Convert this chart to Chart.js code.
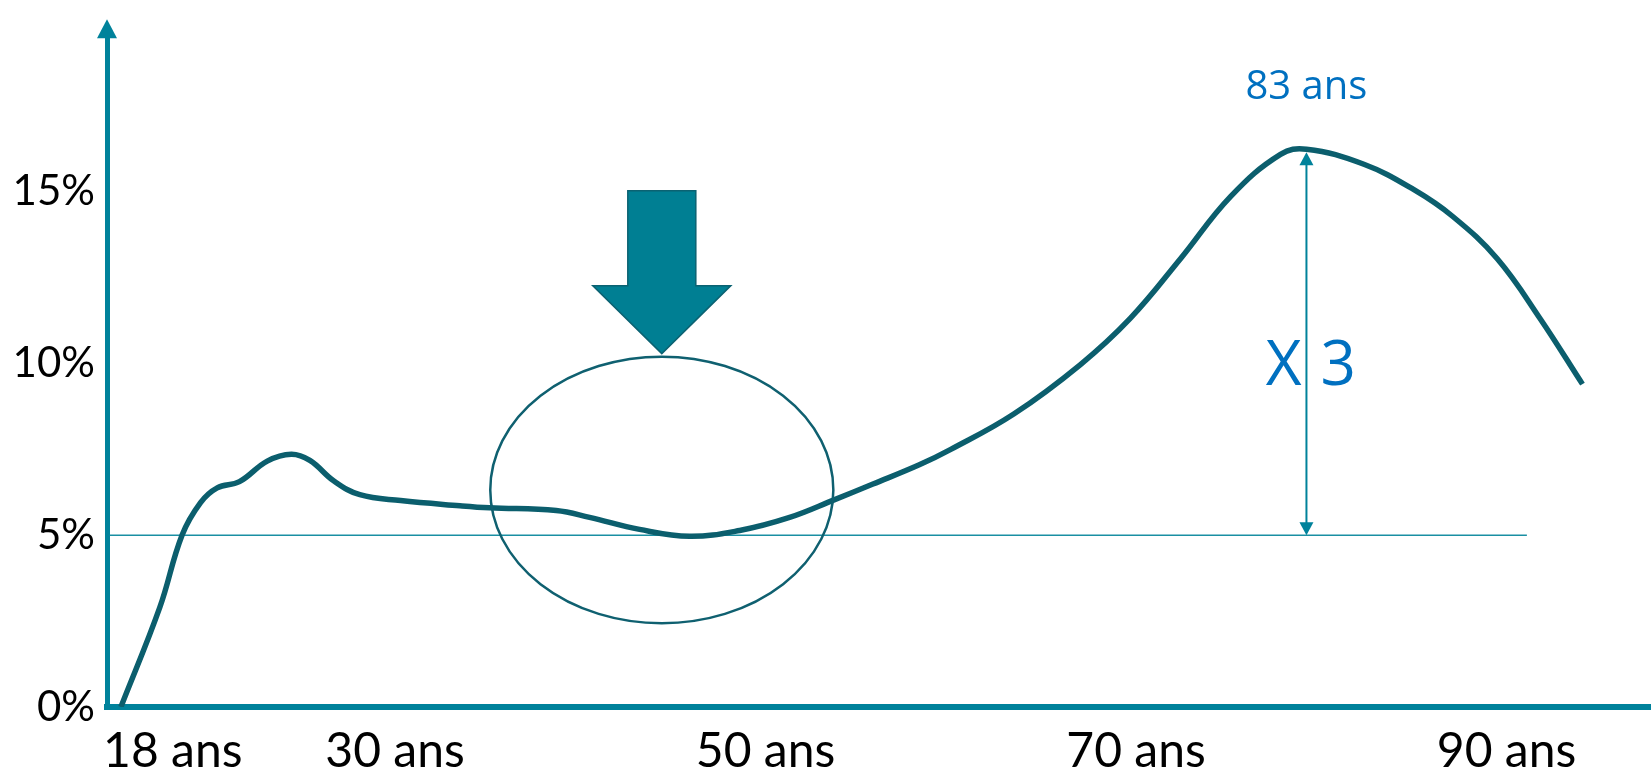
<!DOCTYPE html>
<html lang="fr">
<head>
<meta charset="utf-8">
<title>Courbe par âge</title>
<script src="https://cdn.jsdelivr.net/npm/chart.js@4"></script>
<style>
    html, body { margin: 0; padding: 0; background: #ffffff; }
    canvas { display: block; }
</style>
</head>
<body>
<canvas id="ageCurve" width="1651" height="772"></canvas>
<script>
// valeurs (âge, %)
const ages = [15.2, 17.3, 18.5, 19.5, 20.4, 21.6, 23.1, 24.4, 25.4, 26.7, 28.1, 30.3, 33.5, 35.1, 38.7, 40.5, 43.2, 45.9, 48.6,
              51.3, 53.7, 55.8, 58.3, 60.0, 63.4, 67.0, 69.7, 72.4, 75.1, 77.8, 79.2, 82.3, 85.0, 87.1, 89.5, 91.8, 94.1];
const parts = [0.0, 2.9, 5.0, 5.95, 6.38, 6.56, 7.16, 7.36, 7.18, 6.58, 6.18, 6.01, 5.86, 5.80, 5.72, 5.52, 5.17, 4.97, 5.14,
               5.52, 6.03, 6.49, 7.05, 7.50, 8.53, 9.97, 11.32, 13.05, 14.86, 16.09, 16.24, 15.80, 15.06, 14.28, 13.05, 11.32, 9.40];

// ligne de référence à 5 %
const seuilAges = [14.6, 91.1];
const seuilValues = [5, 5];

// graduations
const xTicks = [18, 30, 50, 70, 90];
const yTicks = [0, 5, 10, 15];

// annotations
const peakLabel = '83 ans';
const ratioLabel = ['X', '3'];
const zoneCenter = [44.4, 6.32];   // centre du cercle (âge, %)
const zoneRadius = [9.26, 3.88];   // rayons (années, %)

document.addEventListener("DOMContentLoaded", function(){
    const teal = '#00829b';
    const dark = '#0b5e6d';
    const blue = '#0070c0';

    const annotations = {
        id: 'annotations',
        afterDatasetsDraw(chart) {
            const ctx = chart.ctx;
            const area = chart.chartArea;
            const x = chart.scales.x;
            const y = chart.scales.y;
            ctx.save();

            // flèche de l'axe vertical
            ctx.fillStyle = teal;
            ctx.beginPath();
            ctx.moveTo(area.left, area.top - 18);
            ctx.lineTo(area.left - 10, area.top + 1);
            ctx.lineTo(area.left + 10, area.top + 1);
            ctx.closePath();
            ctx.fill();

            // cercle autour du creux
            const cx = x.getPixelForValue(zoneCenter[0]);
            const cy = y.getPixelForValue(zoneCenter[1]);
            const rx = x.getPixelForValue(zoneCenter[0] + zoneRadius[0]) - cx;
            const ry = cy - y.getPixelForValue(zoneCenter[1] + zoneRadius[1]);
            ctx.strokeStyle = '#0f6070';
            ctx.lineWidth = 2.5;
            ctx.beginPath();
            ctx.ellipse(cx, cy, rx, ry, 0, 0, Math.PI * 2);
            ctx.stroke();

            // grosse flèche vers le bas
            const tipY = cy - ry - 3;
            ctx.fillStyle = '#007f93';
            ctx.strokeStyle = '#0b6272';
            ctx.lineWidth = 1.5;
            ctx.beginPath();
            ctx.moveTo(cx, tipY);
            ctx.lineTo(cx - 69, tipY - 68);
            ctx.lineTo(cx - 34, tipY - 68);
            ctx.lineTo(cx - 34, tipY - 163);
            ctx.lineTo(cx + 34, tipY - 163);
            ctx.lineTo(cx + 34, tipY - 68);
            ctx.lineTo(cx + 69, tipY - 68);
            ctx.closePath();
            ctx.fill();
            ctx.stroke();

            // double flèche entre 5 % et le pic
            let iMax = 0;
            parts.forEach((v, i) => { if (v > parts[iMax]) iMax = i; });
            const px = x.getPixelForValue(ages[iMax]);
            const top = y.getPixelForValue(parts[iMax]) + 3;
            const bottom = y.getPixelForValue(seuilValues[0]);
            ctx.strokeStyle = teal;
            ctx.fillStyle = teal;
            ctx.lineWidth = 2;
            ctx.beginPath();
            ctx.moveTo(px, top + 10);
            ctx.lineTo(px, bottom - 10);
            ctx.stroke();
            ctx.beginPath();
            ctx.moveTo(px, top);
            ctx.lineTo(px - 7, top + 13);
            ctx.lineTo(px + 7, top + 13);
            ctx.closePath();
            ctx.fill();
            ctx.beginPath();
            ctx.moveTo(px, bottom);
            ctx.lineTo(px - 7, bottom - 13);
            ctx.lineTo(px + 7, bottom - 13);
            ctx.closePath();
            ctx.fill();

            // textes
            ctx.fillStyle = blue;
            ctx.textBaseline = 'alphabetic';
            ctx.font = '40px "Open Sans"';
            ctx.textAlign = 'center';
            ctx.fillText(peakLabel, px, top - 53);
            ctx.font = '62px "Open Sans"';
            ctx.textAlign = 'right';
            ctx.fillText(ratioLabel[0], px - 5, 385);
            ctx.textAlign = 'left';
            ctx.fillText(ratioLabel[1], px + 14, 385);

            ctx.restore();
        }
    };

    const ctx = document.getElementById('ageCurve').getContext('2d');
    const curveChart = new Chart(ctx, {
        type: 'line',
        data: {
            datasets: [
                {
                    label: 'Répartition par âge',
                    data: ages.map((a, i) => ({x: a, y: parts[i]})),
                    borderColor: dark,
                    borderWidth: 5.5,
                    pointRadius: 0,
                    fill: false,
                    tension: 0.4
                },
                {
                    label: 'Seuil 5 %',
                    data: seuilAges.map((a, i) => ({x: a, y: seuilValues[i]})),
                    borderColor: '#1a8fa3',
                    borderWidth: 1.5,
                    pointRadius: 0,
                    fill: false
                }
            ]
        },
        options: {
            responsive: false,
            animation: false,
            devicePixelRatio: 1,
            layout: {
                padding: {top: 28, left: 0, right: 0, bottom: 0}
            },
            plugins: {
                legend: { display: false },
                tooltip: { enabled: false }
            },
            scales: {
                x: {
                    type: 'linear',
                    min: 14.45,
                    max: 97.8,
                    afterBuildTicks: (scale) => { scale.ticks = xTicks.map(v => ({value: v})); },
                    afterFit: (scale) => { scale.height = 65; },
                    grid: { display: false, drawTicks: false },
                    border: { display: true, color: teal, width: 6 },
                    ticks: {
                        padding: 16,
                        maxRotation: 0,
                        autoSkip: false,
                        color: '#000000',
                        font: { family: 'Lato', size: 48 },
                        callback: (v) => v + ' ans'
                    }
                },
                y: {
                    type: 'linear',
                    min: 0,
                    max: 19.5,
                    afterBuildTicks: (scale) => { scale.ticks = yTicks.map(v => ({value: v})); },
                    afterFit: (scale) => { scale.width = 107; },
                    grid: { display: false, drawTicks: false },
                    border: { display: true, color: teal, width: 5 },
                    ticks: {
                        padding: 12,
                        color: '#000000',
                        font: { family: 'Lato', size: 42 },
                        callback: (v) => v + '%'
                    }
                }
            }
        },
        plugins: [annotations]
    });
});
</script>
</body>
</html>
